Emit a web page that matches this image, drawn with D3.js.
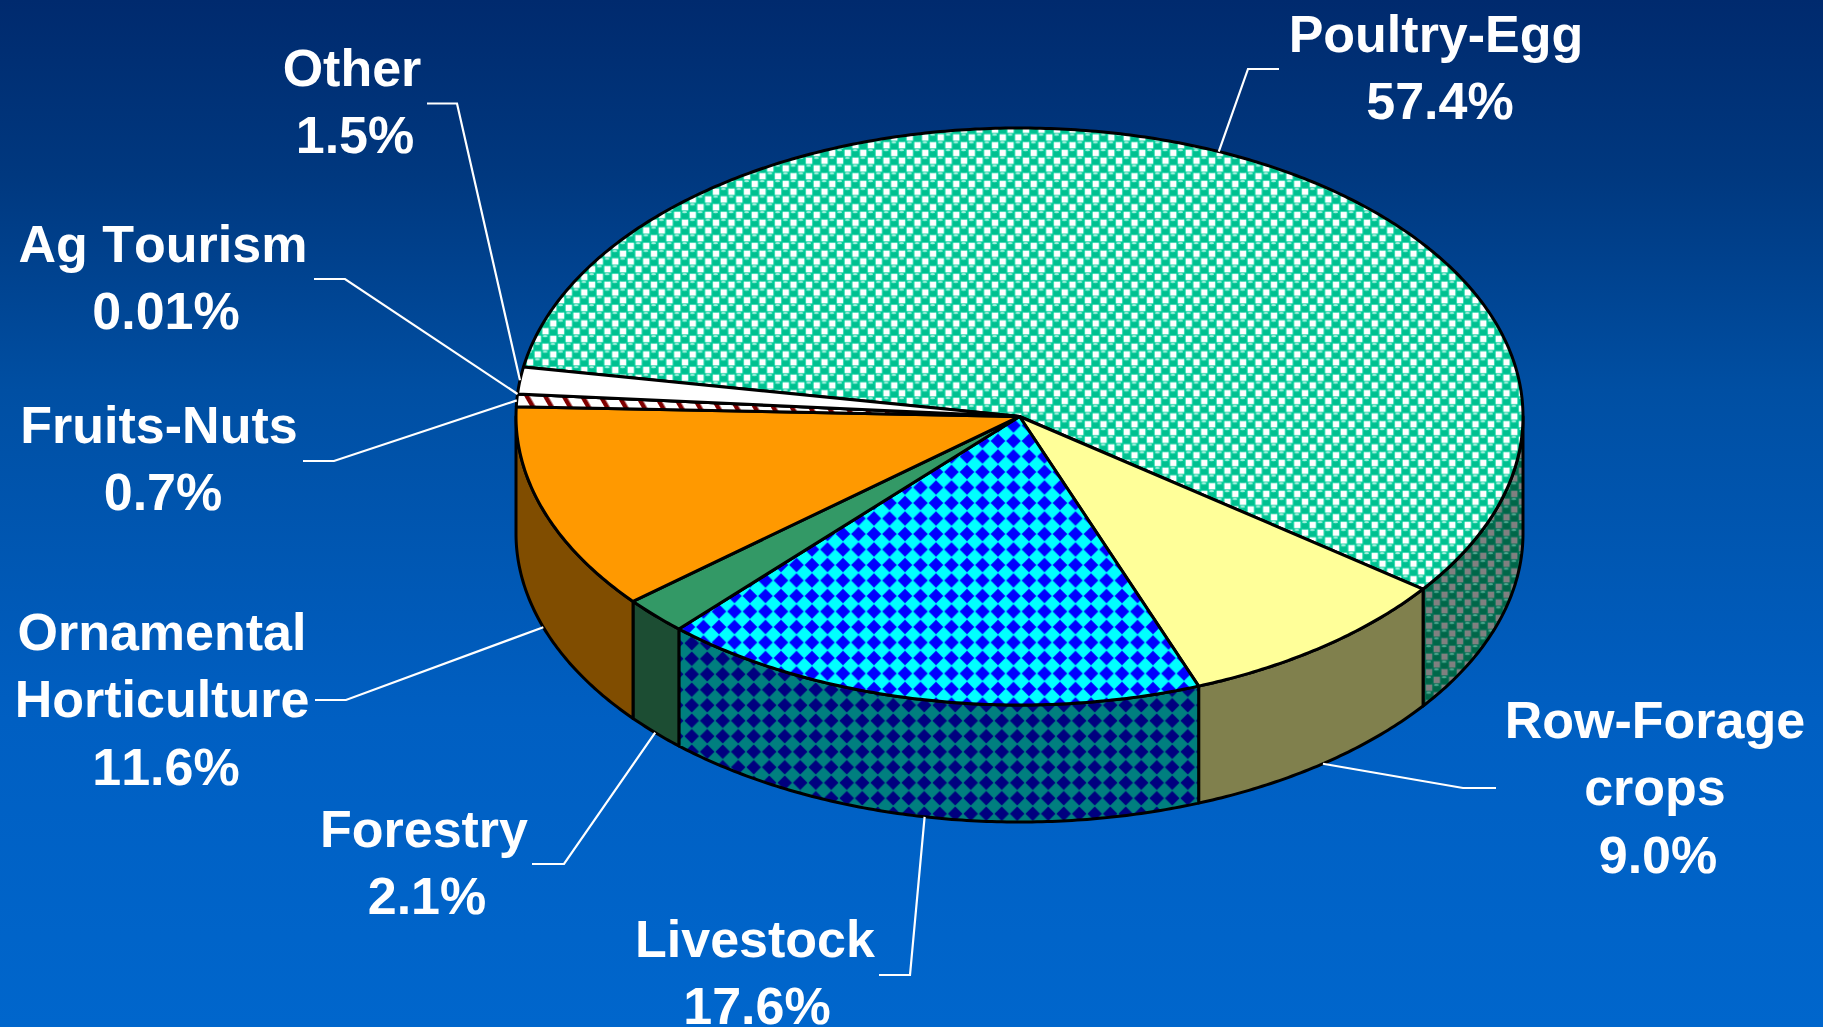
<!DOCTYPE html>
<html><head><meta charset="utf-8">
<script src="https://cdn.jsdelivr.net/npm/d3@7"></script>
<style>html,body{margin:0;padding:0;overflow:hidden;background:#0060c4}svg{display:block}
text{font-family:"Liberation Sans",Arial,sans-serif;font-weight:700;fill:#fff;font-size:52px;text-anchor:middle;font-kerning:none}</style>
</head><body><svg id="c" width="1823" height="1027"></svg>
<script>
// data, clockwise from the start of the largest slice
const categories = ["Poultry-Egg","Row-Forage crops","Livestock","Forestry","Ornamental Horticulture","Fruits-Nuts","Ag Tourism","Other"];
const values = [57.4,9.0,17.6,2.1,11.6,0.7,0.01,1.5];
const percentLabels = ["57.4%","9.0%","17.6%","2.1%","11.6%","0.7%","0.01%","1.5%"];
const labelLines = [["Poultry-Egg"],["Row-Forage","crops"],["Livestock"],["Forestry"],["Ornamental","Horticulture"],["Fruits-Nuts"],["Ag Tourism"],["Other"]];

// layout
const W=1823,H=1027,cx=1019.5,cy=416.5,rx=503.5,ry=288.5,depth=117,startDeg=279.9;
const lineGap=67.3;
const labelPos=[[1436,52],[1655,738],[755,956.5],[424,847],[162,650],[159,443],[163,262],[352,86]];
const pctDx=[4,3,2,3,4,4,3,3];
const elbows=[[[1248,69],[1279,69]],[[1463,788],[1496,788]],[[910,975],[879,975]],[[564,864],[532,864]],
              [[346,700],[315,700]],[[334,461],[303,461]],[[345,279],[314,279]],[[457,103.5],[427,103.5]]];
const topFill=["url(#pPoultry)","#ffff99","url(#pLive)","#339966","#ff9900","url(#pFruit)","#00a8e8","#ffffff"];
const wallFill=["url(#pPoultryD)","#80804d","url(#pLiveD)","#1c4d33","#804d00","#800000","#005080","#808080"];

const svg=d3.select("#c"), defs=svg.append("defs");
const bg=defs.append("linearGradient").attr("id","bg").attr("x1",0).attr("y1",0).attr("x2",0).attr("y2",1);
[[0,"#002a6e"],[.17,"#00387f"],[.38,"#004fa3"],[.7,"#005fc2"],[1,"#0066cc"]].forEach(s=>bg.append("stop").attr("offset",s[0]).attr("stop-color",s[1]));
svg.append("rect").attr("width",W).attr("height",H).attr("fill","url(#bg)");

const T=15.5;
function tile(id,bgc,dx,dy){return defs.append("pattern").attr("id",id).attr("patternUnits","userSpaceOnUse").attr("width",T).attr("height",T)
   .attr("patternTransform",`translate(${dx},${dy})`)
   .call(p=>p.append("rect").attr("width",T).attr("height",T).attr("fill",bgc));}
function spheres(id,bgc,sq,h,lo){const p=tile(id,bgc,6.9,9.6);
  const s=6.4;
  [[T/4,T/4],[3*T/4,3*T/4]].forEach(([x,y])=>
    p.append("rect").attr("x",x-s/2).attr("y",y-s/2).attr("width",s).attr("height",s).attr("fill",sq));
  [[3*T/4,T/4],[T/4,3*T/4]].forEach(([x,y])=>{
    p.append("ellipse").attr("cx",x).attr("cy",y+1.2).attr("rx",3.6).attr("ry",3).attr("fill",lo);
    p.append("ellipse").attr("cx",x-.4).attr("cy",y-2.7).attr("rx",2.4).attr("ry",1.1).attr("fill",h);});}
spheres("pPoultry","#00cc99","#ffffff","#a0f0dc","#00c090");
spheres("pPoultryD","#006f52","#808080","#4fa58e","#006648");
function diamonds(id,bgc,c,dx,dy){const p=tile(id,bgc,dx,dy);
  const x=T/2,y=T/2,r=7.3;
  p.append("path").attr("d",`M${x-r},${y}L${x},${y-r}L${x+r},${y}L${x},${y+r}Z`).attr("fill",c);}
diamonds("pLive","#00ffff","#0000ff",-1.75,-0.75);
diamonds("pLiveD","#007f7f","#00007f",2,0);
const fr=defs.append("pattern").attr("id","pFruit").attr("patternUnits","userSpaceOnUse").attr("width",16).attr("height",16).attr("patternTransform","rotate(-30)");
fr.append("rect").attr("width",16).attr("height",16).attr("fill","#fff");
fr.append("rect").attr("width",4.5).attr("height",16).attr("fill","#800000");

// scales from unit circle to the tilted ellipse
const xS=d3.scaleLinear().domain([-1,1]).range([cx-rx,cx+rx]);
const yS=d3.scaleLinear().domain([-1,1]).range([cy-ry,cy+ry]);
const px=a=>xS(Math.sin(a)), py=a=>yS(-Math.cos(a));
const line=d3.line();
const arcPts=(a0,a1,dy=0)=>{const n=Math.max(2,Math.ceil(Math.abs(a1-a0)/0.01));
  return d3.range(n+1).map(i=>{const a=a0+(a1-a0)*i/n;return [px(a),py(a)+dy];});};

const s0=startDeg*Math.PI/180;
const slices=d3.pie().sort(null).value(d=>d).startAngle(s0).endAngle(s0+2*Math.PI)(values);
const norm=a=>{const t=2*Math.PI;return ((a%t)+t)%t;};
const FR=Math.PI/2, BK=3*Math.PI/2;

// walls
const gW=svg.append("g").attr("stroke","#000").attr("stroke-width",3).attr("stroke-linejoin","round");
slices.forEach((s,i)=>{
  [[s.startAngle,s.endAngle],[s.startAngle-2*Math.PI,s.endAngle-2*Math.PI],[s.startAngle+2*Math.PI,s.endAngle+2*Math.PI]].forEach(([a0,a1])=>{
    const v0=Math.max(a0,FR),v1=Math.min(a1,BK);
    if(v1<=v0)return;
    const pts=arcPts(v0,v1,0).concat(arcPts(v1,v0,depth));
    gW.append("path").attr("d",line(pts)+"Z").attr("fill",wallFill[i]);
  });
});
// top face
const gT=svg.append("g").attr("stroke","#000").attr("stroke-width",3).attr("stroke-linejoin","round");
slices.forEach((s,i)=>{
  const pts=[[cx,cy]].concat(arcPts(s.startAngle,s.endAngle));
  gT.append("path").attr("d",line(pts)+"Z").attr("fill",topFill[i]);
});

// leaders: from the outer edge at each slice's mid angle
const gL=svg.append("g").attr("fill","none").attr("stroke","#fff").attr("stroke-width",2.2);
slices.forEach((s,i)=>{
  const m=norm((s.startAngle+s.endAngle)/2);
  const dy=(m>FR&&m<BK)?depth:0;
  gL.append("path").attr("d",line([[px(m),py(m)+dy],...elbows[i]]));
});
// labels
const gX=svg.append("g");
categories.forEach((c,i)=>{
  const [x,y]=labelPos[i];
  labelLines[i].forEach((t,j)=>gX.append("text").attr("x",x).attr("y",y+j*lineGap).text(t));
  gX.append("text").attr("x",x+pctDx[i]).attr("y",y+labelLines[i].length*lineGap).text(percentLabels[i]);
});
</script></body></html>
